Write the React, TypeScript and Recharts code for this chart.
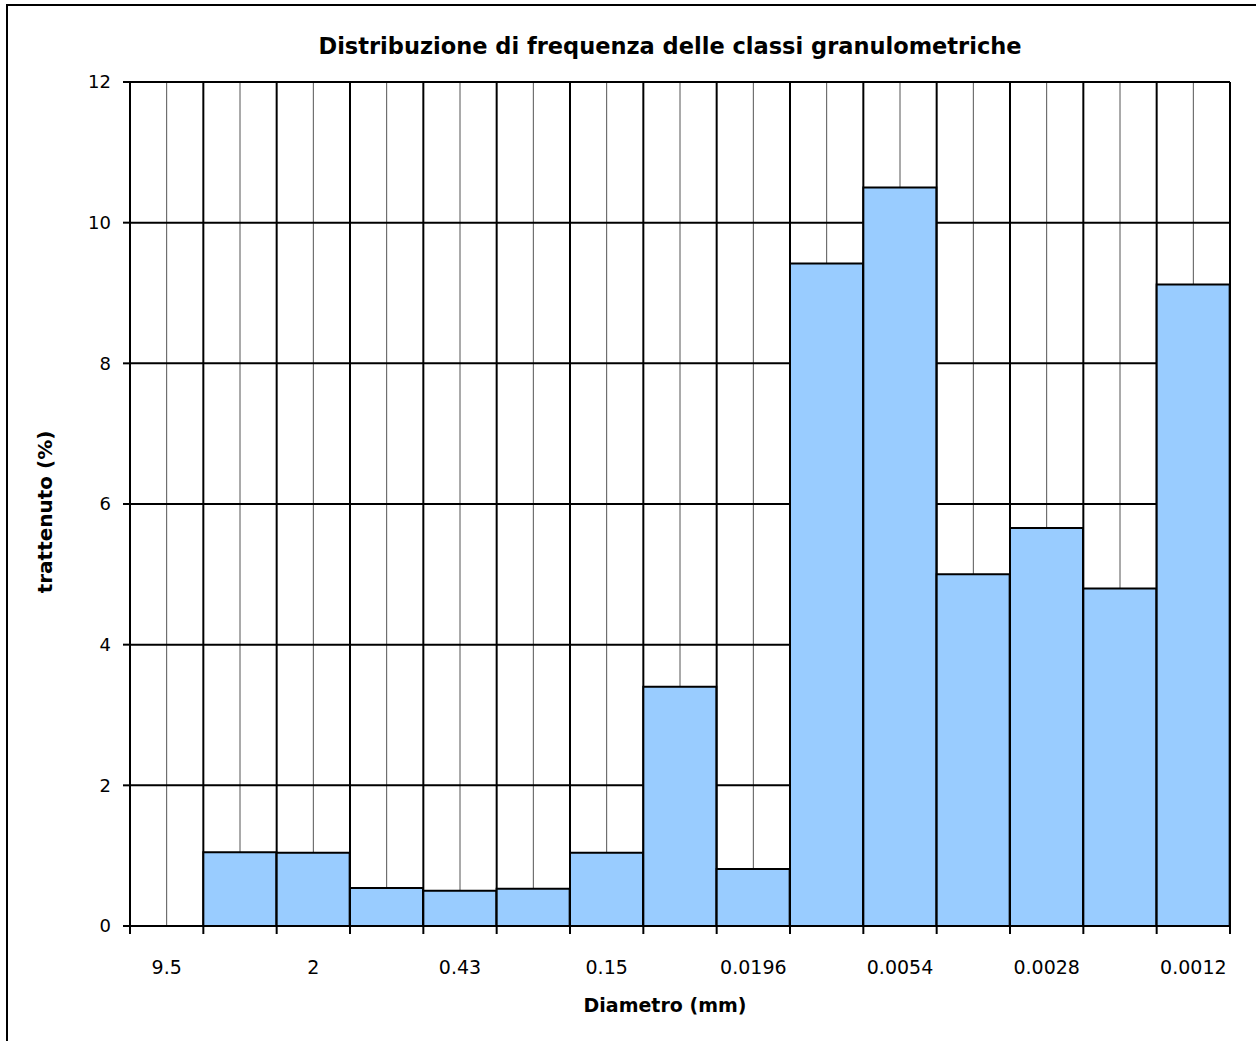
import { BarChart, Bar, XAxis, YAxis, CartesianGrid } from 'recharts';

// diametro delle classi (solo una etichetta su due e' riportata sull'asse)
const diameters = ['9.5', '', '2', '', '0.43', '', '0.15', '', '0.0196', '', '0.0054', '', '0.0028', '', '0.0012'];
// trattenuto (%) per classe
const retained = [0, 1.05, 1.04, 0.54, 0.5, 0.53, 1.04, 3.4, 0.81, 9.42, 10.5, 5.0, 5.66, 4.8, 9.12];
const yTicks = [0, 2, 4, 6, 8, 10, 12];

const FONT = '"Comic Sans MS", "DejaVu Sans", sans-serif';
const COLORS = {
  bar: '#99ccff',
  line: '#000000',
  thin: '#555555',
  text: '#000000',
};

const data = diameters.map((d, i) => ({
  diam: d,
  pos: i + 0.5,
  value: retained[i],
}));

// bordi delle classi sull'asse numerico
const boundaries = diameters.map((_, i) => i).concat(diameters.length);

export default function App() {
  return (
    <div style={{ position: 'fixed', inset: 0, overflow: 'hidden', background: '#fff', fontFamily: FONT, color: COLORS.text }}>
      <div style={{ position: 'absolute', left: 6, top: 4, width: 1300, height: 1100, border: '2px solid #000' }} />
      <div style={{ position: 'absolute', left: 0, top: 0 }}>
        <BarChart
          width={1256}
          height={1041}
          data={data}
          barCategoryGap={0}
          margin={{ top: 82, right: 26, bottom: 47, left: 20 }}
        >
          {/* linee sottili al centro di ogni classe */}
          <CartesianGrid xAxisId="b_labels" horizontal={false} stroke={COLORS.thin} strokeWidth={1} />
          {/* griglia principale: bordi delle classi e valori y */}
          <CartesianGrid xAxisId="a_edges" stroke={COLORS.line} strokeWidth={2} />
          <XAxis
            xAxisId="b_labels"
            dataKey="diam"
            interval={0}
            height={60}
            axisLine={false}
            tickLine={false}
            tickSize={0}
            tickMargin={27}
            tick={{ fill: COLORS.text, fontSize: 19, fontFamily: FONT }}
          />
          <XAxis
            xAxisId="a_edges"
            type="number"
            dataKey="pos"
            domain={[0, diameters.length]}
            ticks={boundaries}
            interval={0}
            allowDataOverflow
            tickFormatter={() => ''}
            height={8}
            tickSize={8}
            axisLine={{ stroke: COLORS.line, strokeWidth: 2 }}
            tickLine={{ stroke: COLORS.line, strokeWidth: 2 }}
          />
          <YAxis
            width={110}
            domain={[0, 12]}
            ticks={yTicks}
            interval={0}
            tickSize={7}
            tickMargin={12}
            axisLine={{ stroke: COLORS.line, strokeWidth: 2 }}
            tickLine={{ stroke: COLORS.line, strokeWidth: 2 }}
            tick={{ fill: COLORS.text, fontSize: 18, fontFamily: FONT }}
          />
          <Bar
            xAxisId="b_labels"
            dataKey="value"
            fill={COLORS.bar}
            stroke={COLORS.line}
            strokeWidth={2}
            isAnimationActive={false}
          />
        </BarChart>
      </div>
      <div style={{ position: 'absolute', left: 0, width: 1340, top: 31, textAlign: 'center', fontSize: 22.5, fontWeight: 'bold', lineHeight: '30px' }}>
        Distribuzione di frequenza delle classi granulometriche
      </div>
      <div style={{ position: 'absolute', left: 0, width: 1330, top: 992, textAlign: 'center', fontSize: 19, fontWeight: 'bold', lineHeight: '26px' }}>
        Diametro (mm)
      </div>
      <div
        style={{
          position: 'absolute',
          left: 45,
          top: 512,
          transform: 'translate(-50%, -50%) rotate(-90deg)',
          whiteSpace: 'nowrap',
          fontSize: 20,
          fontWeight: 'bold',
          lineHeight: '26px',
        }}
      >
        trattenuto (%)
      </div>
    </div>
  );
}
